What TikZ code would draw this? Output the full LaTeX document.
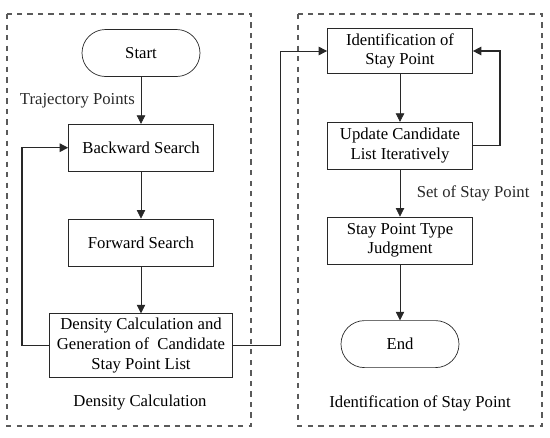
\documentclass[tikz,border=0pt]{standalone}
\usepackage{fontspec}
\setmainfont{Liberation Serif}
\usepackage{tikz}
\usetikzlibrary{shapes.geometric,arrows.meta,positioning,calc}
\definecolor{framegray}{RGB}{90,90,90}
\definecolor{linegray}{RGB}{40,40,40}

\begin{document}
\begin{tikzpicture}[
  font=\fontsize{9.5}{11.2}\selectfont,
  b/.style={draw=linegray, align=center, inner sep=2pt,
            minimum height=0.94cm, minimum width=2.9cm},
  term/.style={draw=linegray, rounded corners=0.47cm, align=center,
            minimum height=0.94cm, minimum width=2.36cm},
  frame/.style={draw=framegray, dashed, thick},
  ar/.style={-{Triangle[length=1.7mm, width=1.7mm]}, linegray},
  loop/.style={ar, thick}
]
\useasboundingbox (0,0) rectangle (11,-8.74);
\draw[frame] (0.14,-0.28) rectangle (5.02,-8.52);
\draw[frame] (5.96,-0.28) rectangle (10.84,-8.52);

% density calculation
\node[term] (start) at (2.82,-1.06) {Start};
\node[b, below=0.94cm of start] (bws) {Backward Search};
\node[b, below=0.94cm of bws] (fws) {Forward Search};
\node[b, minimum width=3.66cm, minimum height=1.28cm, below=0.94cm of fws] (dens) {Density Calculation and\\Generation of \ Candidate\\Stay Point List};
\node (lbl1) at (2.8,-8.06) {Density Calculation};

% identification of stay point
\node[b, minimum height=0.9cm] (ident) at (8.0,-1.02) {Identification of\\Stay Point};
\node[b, below=0.96cm of ident] (upd) {Update Candidate\\List Iteratively};
\node[b, below=0.94cm of upd] (judge) {Stay Point Type\\Judgment};
\node[term, below=1.12cm of judge] (fin) {End};
\node (lbl2) at (8.4,-8.06) {Identification of Stay Point};

\draw[ar] (start) -- node[left] {Trajectory Points} (bws);
\draw[ar] (bws) -- (fws);
\draw[ar] (fws) -- (dens);
\draw[loop] (dens.west) -- ++(-0.54,0) |- (bws.west);
\draw[ar] (dens.east) -- ++(0.94,0) |- (ident.west);

\draw[ar] (ident) -- (upd);
\draw[loop] (upd.east) -- ++(0.54,0) |- (ident.east);
\draw[ar] (upd) -- node[right, xshift=6pt] {Set of Stay Point} (judge);
\draw[ar] (judge) -- (fin);
\end{tikzpicture}
\end{document}
